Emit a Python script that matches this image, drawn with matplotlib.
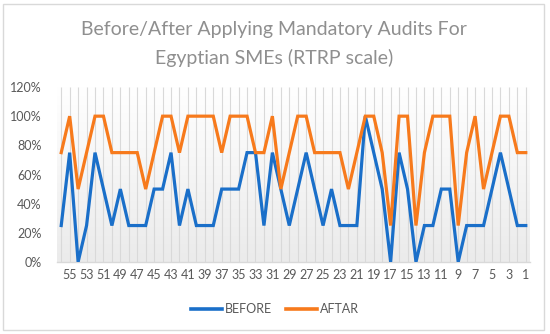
import numpy as np
import matplotlib
matplotlib.use("Agg")
import matplotlib.pyplot as plt
from matplotlib.colors import LinearSegmentedColormap
from matplotlib.patches import Rectangle

# =========================
# Data (categories shown in reverse order, 56 -> 1)
# =========================
categories = list(range(56, 0, -1))

before = [25, 75, 0, 25, 75, 50, 25, 50, 25, 25,
          25, 50, 50, 75, 25, 50, 25, 25, 25, 50,
          50, 50, 75, 75, 25, 75, 50, 25, 50, 75,
          50, 25, 50, 25, 25, 25, 100, 75, 50, 0,
          75, 50, 0, 25, 25, 50, 50, 0, 25, 25,
          25, 50, 75, 50, 25, 25]

after = [75, 100, 50, 75, 100, 100, 75, 75, 75, 75,
         50, 75, 100, 100, 75, 100, 100, 100, 100, 75,
         100, 100, 100, 75, 75, 100, 50, 75, 100, 100,
         75, 75, 75, 75, 50, 75, 100, 100, 75, 25,
         100, 100, 25, 75, 100, 100, 100, 25, 75, 100,
         50, 75, 100, 100, 75, 75]

series_names = ["BEFORE", "AFTAR"]
y_ticks = [0, 20, 40, 60, 80, 100, 120]
x_labels = [c for c in categories if c % 2 == 1]

title_lines = ["Before/After Applying Mandatory Audits For",
               "Egyptian SMEs (RTRP scale)"]

BLUE = "#1a6fc9"
ORANGE = "#f77a1c"
GRAY_TXT = "#595959"
TITLE_TXT = "#8f8f8f"

plt.rcParams["font.family"] = ["Lato", "DejaVu Sans"]

# =========================
# Figure
# =========================
fig = plt.figure(figsize=(5.5, 3.34), dpi=100)
ax = fig.add_axes([57 / 550, 1 - 262 / 334, (530 - 57) / 550, (262 - 87) / 334])

# chart area border
fig.patches.append(Rectangle((3 / 550, 4 / 334), 541 / 550, 326 / 334,
                             transform=fig.transFigure, fill=False,
                             edgecolor="#d9d9d9", lw=1.0))

# plot area gradient (white top -> light gray bottom)
cmap = LinearSegmentedColormap.from_list("bg", ["#ebebeb", "#ffffff"])
grad = np.linspace(0, 1, 256).reshape(-1, 1)
ax.imshow(grad, extent=[0, 1, 0, 1], transform=ax.transAxes,
          origin="lower", aspect="auto", cmap=cmap, zorder=0)
ax.set_facecolor("none")

# vertical gridlines at every category
ax.vlines(categories, 0, 120, colors="#d9d9d9", lw=0.8, zorder=1)

ax.plot(categories, before, color=BLUE, lw=2.3, label=series_names[0],
        zorder=3, solid_joinstyle="miter")
ax.plot(categories, after, color=ORANGE, lw=2.3, label=series_names[1],
        zorder=4, solid_joinstyle="miter")

ax.set_xlim(56.5, 0.5)
ax.set_ylim(0, 120)

ax.set_xticks(x_labels)
ax.set_xticklabels([str(c) for c in x_labels])
ax.set_yticks(y_ticks)
ax.set_yticklabels([f"{v}%" for v in y_ticks])
ax.tick_params(axis="both", length=0, colors=GRAY_TXT, labelsize=9)
ax.tick_params(axis="y", pad=11)
ax.tick_params(axis="x", pad=5)

for s in ["top", "right", "left"]:
    ax.spines[s].set_visible(False)
ax.spines["bottom"].set_color("#d9d9d9")
ax.spines["bottom"].set_linewidth(1.0)

# title
fig.text(0.498, 1 - 29 / 334, title_lines[0], ha="center", va="center",
         fontsize=14, color=TITLE_TXT)
fig.text(0.498, 1 - 58 / 334, title_lines[1], ha="center", va="center",
         fontsize=14, color=TITLE_TXT)

# legend
leg = fig.legend(loc="center", bbox_to_anchor=(0.5, 1 - 309 / 334), ncol=2,
                 frameon=False, fontsize=9, handlelength=2.5,
                 handletextpad=0.25, columnspacing=1.1)
for line in leg.get_lines():
    line.set_linewidth(2.6)
for t in leg.get_texts():
    t.set_color(GRAY_TXT)

fig.savefig("out.png", dpi=100)
